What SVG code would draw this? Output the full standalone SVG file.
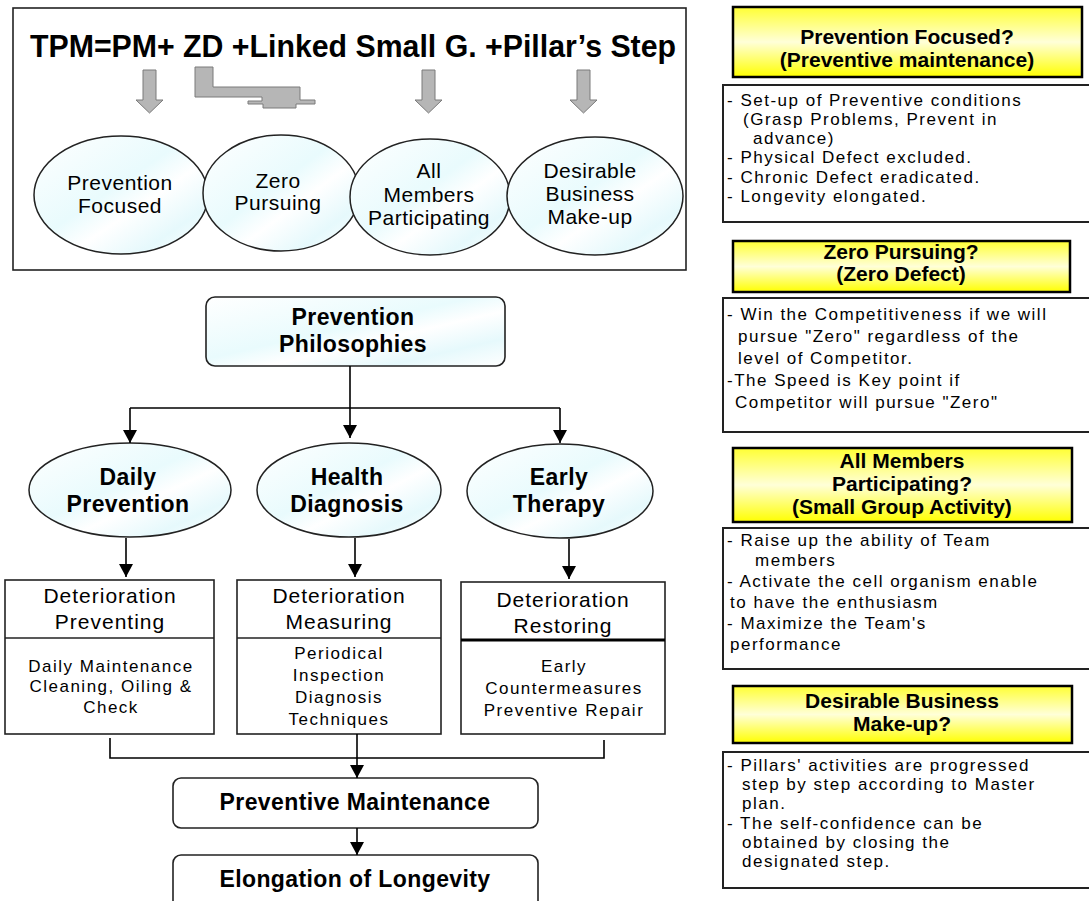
<svg xmlns="http://www.w3.org/2000/svg" width="1089" height="901" viewBox="0 0 1089 901">
<defs>
<linearGradient id="cyan" x1="0" y1="0" x2="1" y2="1">
<stop offset="0" stop-color="#ffffff"/>
<stop offset="0.45" stop-color="#e9fbfd"/>
<stop offset="0.6" stop-color="#ffffff"/>
<stop offset="0.8" stop-color="#e6f9fc"/>
<stop offset="1" stop-color="#ffffff"/>
</linearGradient>
<linearGradient id="yel" x1="0" y1="0" x2="0" y2="1">
<stop offset="0" stop-color="#ffff33"/>
<stop offset="0.5" stop-color="#ffffd8"/>
<stop offset="1" stop-color="#ffff00"/>
</linearGradient>
<marker id="ah" viewBox="0 0 13 14" refX="13" refY="7" markerWidth="13" markerHeight="14" markerUnits="userSpaceOnUse" orient="auto">
<path d="M0,0 L13,7 L0,14 Z" fill="#000"/>
</marker>
<style>
text{font-family:"Liberation Sans",Arial,sans-serif;fill:#000}
.title{font-size:32px;font-weight:bold}
.ov{font-size:21px;text-anchor:middle;letter-spacing:0.5px}
.hd{font-size:21px;font-weight:bold;text-anchor:middle}
.bd{font-size:17px;letter-spacing:1.5px}
.bb{font-size:23px;font-weight:bold;text-anchor:middle;letter-spacing:0.4px}
.dh{font-size:21px;text-anchor:middle;letter-spacing:1px}
.db{font-size:17px;text-anchor:middle;letter-spacing:1.5px}
.frame{fill:#fff;stroke:#222;stroke-width:1.6}
.oval{fill:url(#cyan);stroke:#222;stroke-width:1.5}
.ybox{fill:url(#yel);stroke:#000;stroke-width:2.5}
.wbox{fill:#fff;stroke:#222;stroke-width:2}
.box{fill:#fff;stroke:#222;stroke-width:1.6}
.garrow{fill:#b6b6b6;stroke:#7a7a7a;stroke-width:1}
.con{fill:none;stroke:#000;stroke-width:1.6}
</style>
</defs>
<rect width="1089" height="901" fill="#fff"/>

<g id="tpm-panel">
<rect class="frame" x="13" y="8" width="673" height="262"/>
<text class="title" x="30" y="57" textLength="646" lengthAdjust="spacingAndGlyphs">TPM=PM+ ZD +Linked Small G. +Pillar’s Step</text>
<polygon class="garrow" points="143,70 156,70 156,100 163,100 149.5,113 136,100 143,100"/>
<polygon class="garrow" points="195,67 213,67 213,87 300,87 300,100 315,100 315,104 296,104 296,108 263,108 263,104 248,104 248,101 262,101 262,97 195,97"/>
<polygon class="garrow" points="422,70 435,70 435,100 442,100 428.5,113 415,100 422,100"/>
<polygon class="garrow" points="577,70 590,70 590,100 597,100 583.5,113 570,100 577,100"/>
</g>

<g id="oval-prevention-focused">
<ellipse class="oval" cx="121" cy="195" rx="87" ry="59"/>
<text class="ov" x="120" y="190">Prevention</text>
<text class="ov" x="120" y="213">Focused</text>
</g>
<g id="oval-zero-pursuing">
<ellipse class="oval" cx="281" cy="193" rx="78" ry="58"/>
<text class="ov" x="278" y="188">Zero</text>
<text class="ov" x="278" y="210">Pursuing</text>
</g>
<g id="oval-all-members">
<ellipse class="oval" cx="430" cy="197" rx="80" ry="58"/>
<text class="ov" x="429" y="178">All</text>
<text class="ov" x="429" y="202">Members</text>
<text class="ov" x="429" y="225">Participating</text>
</g>
<g id="oval-desirable-business">
<ellipse class="oval" cx="595" cy="196" rx="88" ry="59"/>
<text class="ov" x="590" y="178">Desirable</text>
<text class="ov" x="590" y="201">Business</text>
<text class="ov" x="590" y="224">Make-up</text>
</g>

<g id="prevention-philosophies">
<rect x="206" y="297" width="299" height="69" rx="9" fill="url(#cyan)" stroke="#222" stroke-width="1.6"/>
<text class="bb" x="353" y="325">Prevention</text>
<text class="bb" x="353" y="352">Philosophies</text>
</g>

<g id="daily-prevention">
<ellipse class="oval" cx="130" cy="490" rx="101" ry="47"/>
<text class="bb" x="128" y="485">Daily</text>
<text class="bb" x="128" y="512">Prevention</text>
</g>
<g id="health-diagnosis">
<ellipse class="oval" cx="349" cy="490" rx="92" ry="47"/>
<text class="bb" x="347" y="485">Health</text>
<text class="bb" x="347" y="512">Diagnosis</text>
</g>
<g id="early-therapy">
<ellipse class="oval" cx="560" cy="491" rx="93" ry="47"/>
<text class="bb" x="559" y="485">Early</text>
<text class="bb" x="559" y="512">Therapy</text>
</g>

<g id="deterioration-preventing">
<rect class="box" x="5" y="580" width="209" height="154"/>
<line x1="5" y1="638" x2="214" y2="638" stroke="#222" stroke-width="1.6"/>
<text class="dh" x="110" y="603">Deterioration</text>
<text class="dh" x="110" y="629">Preventing</text>
<text class="db" x="111" y="672">Daily Maintenance</text>
<text class="db" x="111" y="692">Cleaning, Oiling &amp;</text>
<text class="db" x="111" y="713">Check</text>
</g>
<g id="deterioration-measuring">
<rect class="box" x="237" y="580" width="204" height="154"/>
<line x1="237" y1="638" x2="441" y2="638" stroke="#222" stroke-width="1.6"/>
<text class="dh" x="339" y="603">Deterioration</text>
<text class="dh" x="339" y="629">Measuring</text>
<text class="db" x="339" y="659">Periodical</text>
<text class="db" x="339" y="681">Inspection</text>
<text class="db" x="339" y="703">Diagnosis</text>
<text class="db" x="339" y="725">Techniques</text>
</g>
<g id="deterioration-restoring">
<rect class="box" x="461" y="582" width="204" height="152"/>
<line x1="461" y1="640" x2="665" y2="640" stroke="#000" stroke-width="3"/>
<text class="dh" x="563" y="607">Deterioration</text>
<text class="dh" x="563" y="633">Restoring</text>
<text class="db" x="564" y="672">Early</text>
<text class="db" x="564" y="694">Countermeasures</text>
<text class="db" x="564" y="716">Preventive Repair</text>
</g>

<g id="preventive-maintenance">
<rect class="box" x="173" y="778" width="365" height="50" rx="8"/>
<text class="bb" x="355" y="810">Preventive Maintenance</text>
</g>
<g id="elongation-of-longevity">
<rect class="box" x="173" y="855" width="365" height="60" rx="8"/>
<text class="bb" x="355" y="887">Elongation of Longevity</text>
</g>

<g id="connectors">
<path class="con" d="M350,366 V438" marker-end="url(#ah)"/>
<path class="con" d="M130,408 H560"/>
<path class="con" d="M130,408 V443" marker-end="url(#ah)"/>
<path class="con" d="M560,408 V443" marker-end="url(#ah)"/>
<path class="con" d="M126,538 V577" marker-end="url(#ah)"/>
<path class="con" d="M355,538 V577" marker-end="url(#ah)"/>
<path class="con" d="M569,539 V579" marker-end="url(#ah)"/>
<path class="con" d="M110,738 V758 H604 V740"/>
<path class="con" d="M357,734 V778" marker-end="url(#ah)"/>
<path class="con" d="M357,828 V855" marker-end="url(#ah)"/>
</g>

<g id="hdr-prevention-focused">
<rect class="ybox" x="733" y="7" width="349" height="70"/>
<text class="hd" x="907" y="44">Prevention Focused?</text>
<text class="hd" x="907" y="67">(Preventive maintenance)</text>
</g>
<g id="txt-prevention-focused">
<rect class="wbox" x="723" y="85" width="372" height="137"/>
<text class="bd" x="727" y="106">- Set-up of Preventive conditions</text>
<text class="bd" x="743" y="125">(Grasp Problems, Prevent in</text>
<text class="bd" x="753" y="144">advance)</text>
<text class="bd" x="727" y="163">- Physical Defect excluded.</text>
<text class="bd" x="727" y="183">- Chronic Defect eradicated.</text>
<text class="bd" x="727" y="202">- Longevity elongated.</text>
</g>

<g id="hdr-zero-pursuing">
<rect class="ybox" x="733" y="241" width="337" height="51"/>
<text class="hd" x="901" y="259">Zero Pursuing?</text>
<text class="hd" x="901" y="281">(Zero Defect)</text>
</g>
<g id="txt-zero-pursuing">
<rect class="wbox" x="723" y="298" width="372" height="134"/>
<text class="bd" x="727" y="320">- Win the Competitiveness if we will</text>
<text class="bd" x="738" y="342">pursue "Zero" regardless of the</text>
<text class="bd" x="738" y="364">level of Competitor.</text>
<text class="bd" x="727" y="386">-The Speed is Key point if</text>
<text class="bd" x="735" y="408">Competitor will pursue "Zero"</text>
</g>

<g id="hdr-all-members">
<rect class="ybox" x="733" y="448" width="339" height="74"/>
<text class="hd" x="902" y="468">All Members</text>
<text class="hd" x="902" y="491">Participating?</text>
<text class="hd" x="902" y="514">(Small Group Activity)</text>
</g>
<g id="txt-all-members">
<rect class="wbox" x="723" y="528" width="372" height="141"/>
<text class="bd" x="727" y="546">- Raise up the ability of Team</text>
<text class="bd" x="755" y="566">members</text>
<text class="bd" x="727" y="587">- Activate the cell organism enable</text>
<text class="bd" x="730" y="608">to have the enthusiasm</text>
<text class="bd" x="727" y="629">- Maximize the Team's</text>
<text class="bd" x="730" y="650">performance</text>
</g>

<g id="hdr-desirable-business">
<rect class="ybox" x="733" y="686" width="339" height="57"/>
<text class="hd" x="902" y="708">Desirable Business</text>
<text class="hd" x="902" y="731">Make-up?</text>
</g>
<g id="txt-desirable-business">
<rect class="wbox" x="723" y="752" width="372" height="136"/>
<text class="bd" x="727" y="771">- Pillars' activities are progressed</text>
<text class="bd" x="742" y="790">step by step according to Master</text>
<text class="bd" x="742" y="809">plan.</text>
<text class="bd" x="727" y="829">- The self-confidence can be</text>
<text class="bd" x="742" y="848">obtained by closing the</text>
<text class="bd" x="742" y="867">designated step.</text>
</g>
</svg>
